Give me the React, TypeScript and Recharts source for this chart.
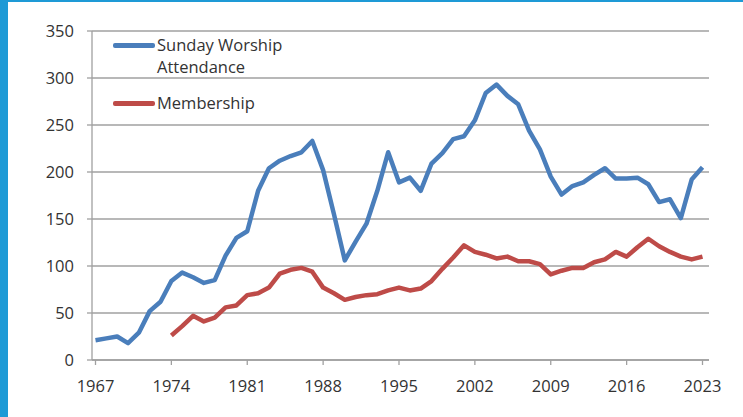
import React from "react";
import { LineChart, Line, XAxis, YAxis, CartesianGrid } from "recharts";

const years: number[] = [
    1967, 1968, 1969, 1970, 1971, 1972, 1973, 1974, 1975, 1976,
    1977, 1978, 1979, 1980, 1981, 1982, 1983, 1984, 1985, 1986,
    1987, 1988, 1989, 1990, 1991, 1992, 1993, 1994, 1995, 1996,
    1997, 1998, 1999, 2000, 2001, 2002, 2003, 2004, 2005, 2006,
    2007, 2008, 2009, 2010, 2011, 2012, 2013, 2014, 2015, 2016,
    2017, 2018, 2019, 2020, 2021, 2022, 2023
];

const attendance: number[] = [
    21, 23, 25, 18, 29, 52, 62, 84, 93, 88,
    82, 85, 111, 130, 137, 180, 204, 212, 217, 221,
    233, 202, 155, 106, 126, 145, 180, 221, 189, 194,
    180, 209, 220, 235, 238, 255, 284, 293, 281, 272,
    244, 224, 195, 176, 185, 189, 197, 204, 193, 193,
    194, 187, 168, 171, 151, 192, 205
];

const membership: (number | null)[] = [
    null, null, null, null, null, null, null, 26, 36, 47,
    41, 45, 56, 58, 69, 71, 77, 92, 96, 98,
    94, 77, 71, 64, 67, 69, 70, 74, 77, 74,
    76, 84, 97, 109, 122, 115, 112, 108, 110, 105,
    105, 102, 91, 95, 98, 98, 104, 107, 115, 110,
    120, 129, 121, 115, 110, 107, 110
];

const xTicks: number[] = [1967, 1974, 1981, 1988, 1995, 2002, 2009, 2016, 2023];
const yTicks: number[] = [0, 50, 100, 150, 200, 250, 300, 350];

const BLUE = "#4a7ebb";
const RED = "#be4b48";
const FONT = "'Open Sans', sans-serif";

export default function App() {
    const data = years.map((y, i) => ({
        year: y,
        attendance: attendance[i],
        membership: membership[i]
    }));

    const tickStyle = { fill: "#333", fontSize: 16.5, fontFamily: FONT };

    return (
        <div style={{ position: "absolute", left: 0, top: 0, width: 743, height: 417, background: "#fff", overflow: "hidden" }}>
            {/* slide edge strips */}
            <div style={{ position: "absolute", left: 0, top: 0, width: 8, height: 417, background: "#1e9ad6" }} />
            <div style={{ position: "absolute", left: 0, top: 0, width: 743, height: 2, background: "#1e9ad6" }} />

            <LineChart
                width={743}
                height={417}
                data={data}
                margin={{ top: 31, right: 34, left: 0, bottom: 27 }}
                style={{ position: "absolute", left: 0, top: 0 }}
            >
                <CartesianGrid horizontal={true} vertical={false} stroke="#a0a0a0" strokeWidth={1.3} />
                <XAxis
                    dataKey="year"
                    type="number"
                    domain={[1967, 2023.6]}
                    padding={{ left: 3.5, right: 0 }}
                    ticks={xTicks}
                    interval={0}
                    height={30}
                    tick={tickStyle}
                    tickSize={5}
                    tickMargin={15}
                    axisLine={{ stroke: "#a0a0a0", strokeWidth: 1.3 }}
                    tickLine={{ stroke: "#a0a0a0", strokeWidth: 1.3 }}
                />
                <YAxis
                    type="number"
                    domain={[0, 350]}
                    ticks={yTicks}
                    interval={0}
                    width={92}
                    tick={tickStyle}
                    tickSize={5}
                    tickMargin={13}
                    axisLine={{ stroke: "#a0a0a0", strokeWidth: 1.3 }}
                    tickLine={{ stroke: "#a0a0a0", strokeWidth: 1.3 }}
                />
                <Line
                    dataKey="attendance"
                    type="linear"
                    stroke={BLUE}
                    strokeWidth={4.5}
                    strokeLinejoin="round"
                    dot={false}
                    isAnimationActive={false}
                />
                <Line
                    dataKey="membership"
                    type="linear"
                    stroke={RED}
                    strokeWidth={4.5}
                    strokeLinejoin="round"
                    dot={false}
                    isAnimationActive={false}
                />
            </LineChart>

            {/* legend, inside the plot at top-left */}
            <div style={{ position: "absolute", left: 113, top: 34, fontFamily: FONT, fontSize: 16.5, color: "#333", lineHeight: "22px" }}>
                <div style={{ display: "flex", alignItems: "flex-start" }}>
                    <div style={{ width: 42, height: 4.5, background: BLUE, borderRadius: 2, marginTop: 9, marginRight: 2 }} />
                    <div>Sunday Worship<br />Attendance</div>
                </div>
                <div style={{ display: "flex", alignItems: "flex-start", marginTop: 14 }}>
                    <div style={{ width: 42, height: 4.5, background: RED, borderRadius: 2, marginTop: 9, marginRight: 2 }} />
                    <div>Membership</div>
                </div>
            </div>
        </div>
    );
}
